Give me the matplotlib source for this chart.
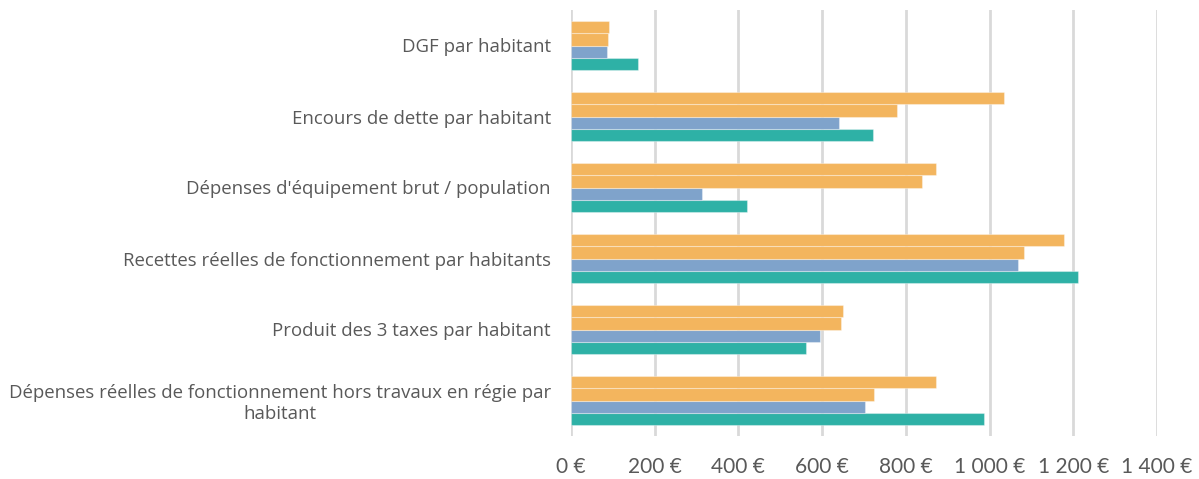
import matplotlib.pyplot as plt
import numpy as np
from matplotlib.ticker import FuncFormatter

plt.rcParams['font.family'] = ['Lato', 'DejaVu Sans']

# categories listed top to bottom, as in the picture
categories = [
    "DGF par habitant",
    "Encours de dette par habitant",
    "Dépenses d'équipement brut / population",
    "Recettes réelles de fonctionnement par habitants",
    "Produit des 3 taxes par habitant",
    "Dépenses réelles de fonctionnement hors travaux en régie par\nhabitant",
]
# series, bottom bar of each group first
serie_1 = [161, 722, 420, 1211, 561, 986]   # teal
serie_2 = [87, 641, 314, 1068, 596, 703]    # blue
serie_3 = [89, 780, 839, 1082, 644, 724]    # orange
serie_4 = [91, 1035, 872, 1177, 651, 871]   # orange
ticks = [0, 200, 400, 600, 800, 1000, 1200, 1400]

colors = ["#2EB1A6", "#7FA3CB", "#F3B55E", "#F3B55E"]
series = [serie_1, serie_2, serie_3, serie_4]

fig = plt.figure(figsize=(11.99, 4.79), dpi=100)
ax = fig.add_axes([571 / 1199, 1 - 436 / 479, (1157 - 571) / 1199, 426 / 479])

y = np.arange(len(categories))[::-1]
h = 0.172
for i, (vals, c) in enumerate(zip(series, colors)):
    ax.barh(y + (i - 1.5) * h, vals, height=h, color=c,
            edgecolor=(1, 1, 1, 0.35), linewidth=0.8, zorder=3)

ax.set_xlim(0, 1400)
ax.set_ylim(-0.5, len(categories) - 0.5)
ax.set_xticks(ticks)
ax.xaxis.set_major_formatter(FuncFormatter(
    lambda v, p: "{:,.0f} €".format(v).replace(",", " ")))
ax.set_yticks(y)
ax.set_yticklabels(categories, multialignment='center', family=['Open Sans', 'DejaVu Sans'])
ax.grid(axis='x', color='#D9D9D9', linewidth=2, zorder=0)
for s in ax.spines.values():
    s.set_visible(False)
ax.tick_params(axis='x', length=0, pad=15, labelsize=15, labelcolor='#595959')
ax.tick_params(axis='y', length=0, pad=14.5, labelsize=13.45, labelcolor='#595959')

fig.savefig("out.png", dpi=100)
